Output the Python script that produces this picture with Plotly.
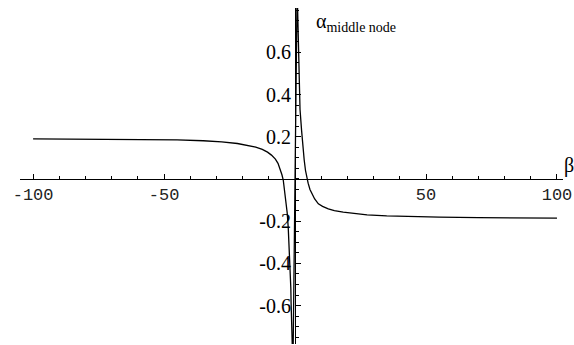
import plotly.graph_objects as go

# Left branch (beta < 0)
beta_left = [-100, -80, -60, -45, -35, -28, -22, -18, -15, -12.5, -10.5, -9, -7.5,
             -6.5, -5.7, -5, -4.5, -4, -3.5, -3, -2.6, -2.2, -1.9, -1.6, -1.5,
             -1.25, -1.0, -0.8]
alpha_left = [0.190, 0.189, 0.188, 0.185, 0.181, 0.176, 0.168, 0.160, 0.151, 0.140,
              0.127, 0.113, 0.094, 0.074, 0.050, 0.020, -0.005, -0.055, -0.11,
              -0.16, -0.23, -0.32, -0.40, -0.52, -0.59, -0.68, -0.78, -0.90]

# Right branch (beta > 0)
beta_right = [0.8, 1.0, 1.3, 1.6, 1.9, 2.5, 3.0, 3.5, 4.0, 4.5, 5.0, 5.7, 6.4, 7.5,
              8.9, 10.5, 12.7, 15, 18.4, 22, 27.5, 35, 45, 55, 70, 85, 100]
alpha_right = [0.90, 0.78, 0.60, 0.45, 0.33, 0.23, 0.15, 0.09, 0.04, 0.0, -0.02,
               -0.05, -0.07, -0.095, -0.118, -0.13, -0.142, -0.150, -0.157, -0.163,
               -0.170, -0.175, -0.179, -0.181, -0.183, -0.185, -0.186]

x_tickvals = [-100, -50, 50, 100]
x_ticktext = ["-100", "-50", "50", "100"]
y_tickvals = [-0.6, -0.4, -0.2, 0.2, 0.4, 0.6]
y_ticktext = ["-0.6", "-0.4", "-0.2", "0.2", "0.4", "0.6"]

x_range = [-105.0, 102.3]
y_range = [-0.782, 0.81]

beta = beta_left + beta_right
alpha = alpha_left + alpha_right

SERIF = "Liberation Serif, Times New Roman, serif"

fig = go.Figure()
fig.add_trace(go.Scatter(x=beta, y=alpha, mode="lines",
                         line=dict(color="black", width=1.3), showlegend=False))

xpos = (0 - y_range[0]) / (y_range[1] - y_range[0])
ypos = (0 - x_range[0]) / (x_range[1] - x_range[0])

fig.update_layout(
    width=574, height=345,
    margin=dict(l=20, r=11, t=8, b=1),
    paper_bgcolor="white", plot_bgcolor="white",
    xaxis=dict(range=x_range, anchor="free", position=xpos, showline=True,
               linecolor="black", linewidth=1, showgrid=False, zeroline=False,
               tickmode="array", tickvals=x_tickvals, ticktext=x_ticktext,
               ticks="inside", ticklen=5, tickcolor="black",
               tickfont=dict(family="Liberation Mono", size=17, color="#222"),
               minor=dict(dtick=10, tick0=0, ticks="inside", ticklen=3,
                          tickcolor="black"),
               fixedrange=True),
    yaxis=dict(range=y_range, anchor="free", position=ypos, showline=True,
               linecolor="black", linewidth=1.2, showgrid=False, zeroline=False,
               tickmode="array", tickvals=y_tickvals, ticktext=y_ticktext,
               ticks="inside", ticklen=5, tickcolor="black",
               tickfont=dict(family=SERIF, size=20, color="black"),
               minor=dict(dtick=0.05, tick0=0, ticks="inside", ticklen=3,
                          tickcolor="black"),
               fixedrange=True),
    annotations=[
        dict(x=1, y=0.062, xref="paper", yref="y", text="β", showarrow=False,
             font=dict(family=SERIF, size=20, color="black"),
             xanchor="left", yanchor="middle", xshift=-1),
        dict(x=7.3, y=0.81, xref="x", yref="y",
             text="α<sub>middle node</sub>", showarrow=False,
             font=dict(family=SERIF, size=20, color="black"),
             xanchor="left", yanchor="top"),
    ],
)

fig.write_html("out.html")
